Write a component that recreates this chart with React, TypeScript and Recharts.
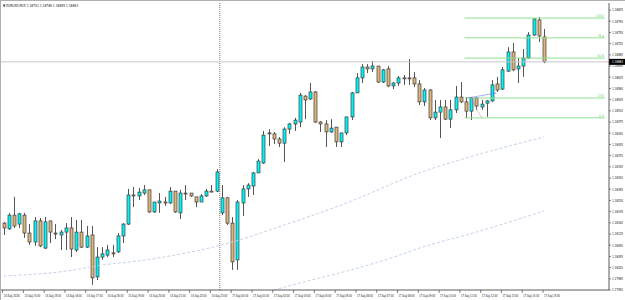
import React from "react";
import { ComposedChart, Bar, Line, XAxis, YAxis, ReferenceLine } from "recharts";

// EURUSD M15, 14 Aug 13:00 .. 17 Aug 15:00
const opens = [
  1.18159, 1.18141, 1.18184, 1.18156, 1.18184, 1.18128, 1.181, 1.18166, 1.18081, 1.18166,
  1.18128, 1.18122, 1.18131, 1.18144, 1.18075, 1.18131, 1.18084, 1.18122, 1.17991, 1.18053,
  1.18059, 1.18066, 1.18069, 1.18119, 1.18156, 1.18247, 1.18244, 1.18253, 1.18263, 1.18194,
  1.18222, 1.18225, 1.18222, 1.18259, 1.18191, 1.18253, 1.18253, 1.18241, 1.18225, 1.18244,
  1.18259, 1.18259, 1.18191, 1.18238, 1.18159, 1.18044, 1.18222, 1.18266, 1.18275, 1.18316,
  1.18347, 1.18441, 1.18438, 1.18422, 1.18409, 1.18453, 1.18469, 1.18475, 1.18556, 1.18547,
  1.18569, 1.18475, 1.18469, 1.18444, 1.18459, 1.18413, 1.18441, 1.18491, 1.18566, 1.18613,
  1.18647, 1.18641, 1.1865, 1.186, 1.18641, 1.18588, 1.18597, 1.18613, 1.18613, 1.18613,
  1.18594, 1.18538, 1.18575, 1.18488, 1.18506, 1.18522, 1.18484, 1.18513, 1.18553, 1.18538,
  1.18509, 1.1855, 1.18522, 1.18534, 1.18541, 1.18594, 1.18578, 1.18634, 1.18694, 1.18641,
  1.1865, 1.18675, 1.18747, 1.18794, 1.18741,
];
const highs = [
  1.18163, 1.18191, 1.18241, 1.18191, 1.18191, 1.18156, 1.18178, 1.18175, 1.18178, 1.18166,
  1.18156, 1.18138, 1.18159, 1.18178, 1.18169, 1.18169, 1.1815, 1.1815, 1.18084, 1.18084,
  1.18091, 1.18091, 1.18128, 1.18159, 1.18266, 1.18272, 1.18269, 1.18278, 1.18263, 1.18225,
  1.18253, 1.18241, 1.18272, 1.18259, 1.18263, 1.18278, 1.18253, 1.18241, 1.1825, 1.18266,
  1.18278, 1.18328, 1.18278, 1.18241, 1.18178, 1.18231, 1.18278, 1.18284, 1.18319, 1.18359,
  1.18447, 1.18453, 1.18444, 1.18428, 1.18459, 1.18472, 1.18488, 1.18566, 1.18559, 1.18597,
  1.18572, 1.18478, 1.18481, 1.18484, 1.18459, 1.18441, 1.18491, 1.18569, 1.18628, 1.18656,
  1.18656, 1.18666, 1.1865, 1.18641, 1.1865, 1.186, 1.18619, 1.18622, 1.18672, 1.18631,
  1.18606, 1.18581, 1.18578, 1.18544, 1.18544, 1.18544, 1.18544, 1.18588, 1.186, 1.18553,
  1.18553, 1.18553, 1.18544, 1.18544, 1.18606, 1.18616, 1.18647, 1.18709, 1.18722, 1.18675,
  1.18703, 1.18756, 1.188, 1.18803, 1.18766,
];
const lows = [
  1.18122, 1.18138, 1.18144, 1.18144, 1.18113, 1.18091, 1.18088, 1.18084, 1.18078, 1.18097,
  1.18109, 1.18075, 1.18075, 1.18053, 1.18069, 1.18081, 1.18081, 1.17966, 1.17981, 1.18044,
  1.18053, 1.18053, 1.18066, 1.18097, 1.18153, 1.18209, 1.18231, 1.18247, 1.18191, 1.18191,
  1.18191, 1.18213, 1.18219, 1.18191, 1.18172, 1.18231, 1.18241, 1.18209, 1.18225, 1.18241,
  1.18259, 1.18256, 1.18184, 1.18153, 1.18013, 1.18013, 1.18181, 1.18241, 1.18247, 1.18316,
  1.18344, 1.184, 1.18406, 1.18397, 1.1835, 1.18438, 1.18447, 1.18459, 1.18484, 1.18544,
  1.18472, 1.18444, 1.18397, 1.18441, 1.18397, 1.18397, 1.18434, 1.18481, 1.18566, 1.18597,
  1.18628, 1.18631, 1.18597, 1.18597, 1.18584, 1.18578, 1.18588, 1.18591, 1.18591, 1.18584,
  1.18528, 1.18525, 1.18481, 1.18481, 1.18425, 1.18481, 1.18456, 1.18503, 1.18534, 1.18488,
  1.18481, 1.18513, 1.18513, 1.18491, 1.18538, 1.18569, 1.18575, 1.18631, 1.18634, 1.18597,
  1.18616, 1.18672, 1.18744, 1.18725, 1.18659,
];
const closes = [
  1.18144, 1.18184, 1.1815, 1.18188, 1.18128, 1.181, 1.18166, 1.18088, 1.18163, 1.18131,
  1.18125, 1.18131, 1.18144, 1.18078, 1.18131, 1.18084, 1.18119, 1.17988, 1.18053, 1.18063,
  1.18075, 1.18063, 1.18119, 1.18156, 1.18247, 1.18244, 1.18256, 1.18263, 1.18194, 1.18225,
  1.18228, 1.18222, 1.18259, 1.18194, 1.18253, 1.18251, 1.18244, 1.18225, 1.18244, 1.18259,
  1.18259, 1.18319, 1.18238, 1.18159, 1.18038, 1.18225, 1.18266, 1.18278, 1.18316, 1.18353,
  1.18434, 1.18439, 1.18422, 1.18409, 1.18453, 1.18469, 1.18481, 1.18559, 1.18544, 1.18569,
  1.18475, 1.18469, 1.18444, 1.18456, 1.18413, 1.18441, 1.18491, 1.18566, 1.18613, 1.18647,
  1.18641, 1.1865, 1.186, 1.18638, 1.18588, 1.18597, 1.18613, 1.18611, 1.18613, 1.18594,
  1.18538, 1.18575, 1.18488, 1.18506, 1.18522, 1.18484, 1.18513, 1.18553, 1.18538, 1.18509,
  1.1855, 1.18525, 1.18531, 1.18541, 1.18591, 1.18575, 1.18638, 1.18694, 1.18638, 1.1865,
  1.18675, 1.18747, 1.18797, 1.18744, 1.18663,
];

// moving averages, read at a few bars only
const maUpperAt = [0, 12, 19, 26, 44, 54, 66, 80, 91, 104];
const maUpper = [1.17994, 1.18009, 1.18028, 1.18041, 1.181, 1.18153, 1.18222, 1.18316, 1.18372, 1.18428];
const maLowerAt = [52, 57, 66, 74, 80, 91, 104];
const maLower = [1.1795, 1.17972, 1.18009, 1.18047, 1.18081, 1.18131, 1.18197];

const timeTickAt = [0, 4, 8, 12, 16, 20, 24, 28, 32, 36, 40, 44, 48, 52, 56, 60, 64, 68, 72, 76, 80, 84, 88, 92, 96, 100, 104];
const timeLabels = [
  "14 Aug 2020", "14 Aug 14:00", "14 Aug 15:00", "14 Aug 16:00", "14 Aug 17:00", "14 Aug 18:00",
  "14 Aug 19:00", "14 Aug 20:00", "14 Aug 21:00", "14 Aug 22:00", "14 Aug 23:00",
  "17 Aug 00:00", "17 Aug 01:00", "17 Aug 02:00", "17 Aug 03:00", "17 Aug 04:00", "17 Aug 05:00",
  "17 Aug 06:00", "17 Aug 07:00", "17 Aug 08:00", "17 Aug 09:00", "17 Aug 10:00", "17 Aug 11:00",
  "17 Aug 12:00", "17 Aug 13:00", "17 Aug 14:00", "17 Aug 15:00",
];
const priceTicks = [
  1.1795, 1.17985, 1.1802, 1.18055, 1.1809, 1.18125, 1.1816, 1.18195, 1.1823, 1.18265,
  1.183, 1.18335, 1.1837, 1.18405, 1.1844, 1.18475, 1.1851, 1.18545, 1.1858, 1.18615,
  1.1865, 1.18685, 1.1872, 1.18755, 1.1879, 1.18825,
];

const fibLevels = [1.188, 1.18738, 1.18675, 1.1855, 1.18488];
const fibLabels = ["100.0", "76.4", "61.8", "23.6", "0.0"];
const FIB_FROM = 88.7;
const FIB_TO = 115.7;
const SEPARATOR_AT = 41.6;

const data = opens.map((o, i) => {
  const u = maUpperAt.indexOf(i);
  const w = maLowerAt.indexOf(i);
  return {
    i,
    o,
    h: highs[i],
    l: lows[i],
    c: closes[i],
    maU: u >= 0 ? maUpper[u] : null,
    maL: w >= 0 ? maLower[w] : null,
  };
});

const FONT = "DejaVu Sans";

// rough DejaVu Sans advance widths (em), to squeeze tiny labels into MT4-like widths
const EM: Record<string, number> = {
  ".": 0.318, ",": 0.318, " ": 0.318, ":": 0.337, "-": 0.361,
  A: 0.684, u: 0.634, g: 0.635, E: 0.632, U: 0.732, R: 0.695, S: 0.635, D: 0.77, M: 0.863,
};
const textEm = (s: string) => Array.from(s).reduce((a, ch) => a + (EM[ch] ?? 0.636), 0);

const Tiny = ({ x, y, w, fs = 4, fill = "#222", anchor = "start", children }: any) => {
  const sx = Math.min(1, w / (textEm(String(children)) * fs));
  return (
    <text
      transform={`translate(${x},${y}) scale(${sx.toFixed(3)},1)`}
      fontSize={fs}
      fill={fill}
      fontFamily={FONT}
      textAnchor={anchor}
    >
      {children}
    </text>
  );
};

const Candle = (props: any) => {
  const { x, y, width, height, payload } = props;
  const { o, h, l, c } = payload;
  const k = h > l ? height / (h - l) : 0;
  const cx = Math.round(x + width / 2) + 0.5;
  const yo = y + (h - o) * k;
  const yc = y + (h - c) * k;
  const top = Math.min(yo, yc);
  const bh = Math.max(Math.abs(yo - yc), 1);
  const up = c > o;
  return (
    <g>
      <line x1={cx} x2={cx} y1={y} y2={y + height} stroke="#555" strokeWidth={1} />
      <rect
        x={cx - 1.5}
        y={top}
        width={3}
        height={bh}
        fill={up ? "#00f4f4" : "#ddb77a"}
        stroke="#3c3c3c"
        strokeWidth={0.7}
      />
    </g>
  );
};

const PriceTick = ({ x, y, payload }: any) => (
  <g>
    <line x1={x} x2={x + 2} y1={y} y2={y} stroke="#333" strokeWidth={0.6} />
    <Tiny x={x + 3} y={y + 1.4} w={11}>
      {payload.value.toFixed(5)}
    </Tiny>
  </g>
);

const TimeTick = ({ x, y, payload }: any) => {
  const label = timeLabels[timeTickAt.indexOf(payload.value)];
  return (
    <g>
      <line x1={x - 1} x2={x - 1} y1={y} y2={y + 3} stroke="#333" strokeWidth={0.6} />
      <Tiny x={x} y={y + 6.5} w={16}>
        {label}
      </Tiny>
    </g>
  );
};

const PriceBox = (p: any) => {
  const vb = p.viewBox;
  const x = vb.x + vb.width;
  return (
    <g>
      <rect x={x} y={vb.y - 3} width={16} height={6} fill="#000" />
      <Tiny x={x + 3} y={vb.y + 1.5} w={11} fill="#fff">
        {closes[closes.length - 1].toFixed(5)}
      </Tiny>
    </g>
  );
};

const fibLabel = (text: string) => (p: any) => {
  const vb = p.viewBox;
  return (
    <Tiny x={vb.x + vb.width - 1} y={vb.y - 1} w={text.length * 1.6} fs={3.6} fill="#6cc86c" anchor="end">
      {text}
    </Tiny>
  );
};

export default function App() {
  const last = data[data.length - 1];
  const title = `▼ EURUSD,M15  ${last.o.toFixed(5)} ${last.h.toFixed(5)} ${last.l.toFixed(5)} ${last.c.toFixed(5)}`;
  return (
    <div style={{ position: "relative", width: 625, height: 300, background: "#fff" }}>
      <style>{"body{margin:0}"}</style>
      <ComposedChart width={625} height={300} data={data} margin={{ top: 3, right: 0, bottom: 0, left: 1 }}>
        <XAxis
          dataKey="i"
          type="number"
          domain={[-0.5, 116.5]}
          ticks={timeTickAt}
          interval={0}
          height={10}
          tickSize={0}
          tickMargin={0}
          tickLine={false}
          tick={<TimeTick />}
          axisLine={{ stroke: "#333", strokeWidth: 0.8 }}
        />
        <YAxis
          orientation="right"
          type="number"
          domain={[1.1795, 1.18847]}
          allowDataOverflow
          ticks={priceTicks}
          interval={0}
          width={16}
          tickSize={0}
          tickMargin={0}
          tickLine={false}
          tick={<PriceTick />}
          axisLine={{ stroke: "#333", strokeWidth: 0.8 }}
        />
        <ReferenceLine x={SEPARATOR_AT} stroke="#777" strokeDasharray="1 1" />
        <ReferenceLine y={last.c} stroke="#c8c8c8" label={PriceBox} />
        {fibLevels.map((v, k) => (
          <ReferenceLine
            key={k}
            segment={[{ x: FIB_FROM, y: v }, { x: FIB_TO, y: v }]}
            stroke="#8fe08f"
            label={fibLabel(fibLabels[k])}
          />
        ))}
        <ReferenceLine
          segment={[{ x: 89.3, y: 1.1855 }, { x: 94.9, y: 1.18566 }]}
          stroke="#5a5aff"
          strokeDasharray="1 1"
        />
        <ReferenceLine
          segment={[{ x: 90.1, y: 1.18544 }, { x: 92, y: 1.18488 }]}
          stroke="#f08080"
          strokeDasharray="1 1"
        />
        <Line
          dataKey="maU"
          type="monotone"
          stroke="#c4d3ea"
          strokeDasharray="3 2"
          strokeWidth={1}
          dot={false}
          connectNulls
          isAnimationActive={false}
        />
        <Line
          dataKey="maL"
          type="monotone"
          stroke="#c4d3ea"
          strokeDasharray="3 2"
          strokeWidth={1}
          dot={false}
          connectNulls
          isAnimationActive={false}
        />
        <Bar dataKey={(d: any) => [d.l, d.h]} barSize={3} shape={<Candle />} isAnimationActive={false} />
      </ComposedChart>
      <svg width={625} height={300} style={{ position: "absolute", left: 0, top: 0, pointerEvents: "none" }}>
        <line x1={0.5} x2={0.5} y1={0} y2={300} stroke="#b0b0b0" />
        <line x1={0} x2={625} y1={0.5} y2={0.5} stroke="#b0b0b0" />
        <Tiny x={3} y={6.5} w={76}>
          {title}
        </Tiny>
      </svg>
    </div>
  );
}
